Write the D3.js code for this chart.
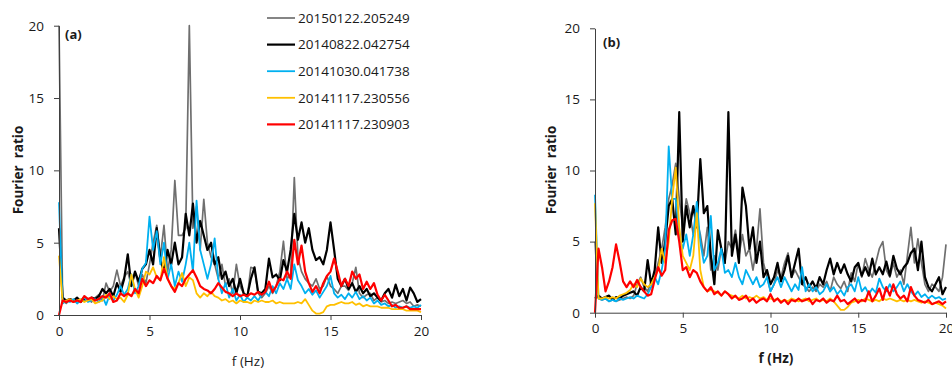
<!DOCTYPE html>
<html>
<head>
<meta charset="utf-8">
<script src="https://cdn.jsdelivr.net/npm/d3@7"></script>
<style>
  html, body { margin: 0; padding: 0; background: #fff; }
  svg { display: block; }
</style>
</head>
<body>
<div id="chart"></div>
<script>
// --- DATA ---
// spectra sampled every 0.2 Hz, from 0 to 20 Hz (101 values each)
const FREQ_STEP = 0.2;
const X_TICKS = [0, 5, 10, 15, 20];
const Y_TICKS = [0, 5, 10, 15, 20];
const EVENTS = ["20150122.205249", "20140822.042754", "20141030.041738", "20141117.230556", "20141117.230903"];

// panel (a)
const A_GRAY = [
  20, 1.0, 0.8, 1.1, 0.9, 1.2, 1.0, 1.3, 1.1, 0.9,
  1.2, 1.4, 1.0, 2.2, 1.6, 2.0, 3.1, 2.0, 2.6, 3.0,
  2.0, 3.0, 2.0, 2.8, 2.2, 3.5, 5.0, 6.2, 4.0, 6.2,
  3.0, 4.5, 9.3, 5.5, 5.5, 6.0, 20, 6.0, 7.5, 4.5,
  8.0, 5.0, 4.0, 3.5, 2.5, 3.5, 2.0, 2.5, 1.5, 3.5,
  2.0, 1.5, 1.2, 3.3, 3.2, 1.5, 1.2, 1.5, 2.0, 1.5,
  2.0, 3.0, 5.1, 2.5, 2.8, 9.5, 4.0, 3.0, 2.5, 2.2,
  2.0, 2.5, 1.8, 2.0, 2.7, 2.0, 1.8, 1.5, 2.0, 2.0,
  1.7, 2.2, 3.3, 1.5, 1.2, 1.4, 1.5, 1.0, 1.2, 0.9,
  1.0, 0.8, 0.9, 0.8, 0.9, 1.0, 0.8, 0.9, 0.6, 0.7,
  0.6
];
const A_BLACK = [
  6.0, 1.2, 1.0, 1.1, 1.0, 1.2, 0.9, 1.1, 1.0, 1.2,
  1.1, 1.3, 1.8, 1.5, 1.8, 1.3, 2.2, 1.6, 2.5, 4.2,
  2.0, 3.0, 2.3, 3.2, 3.5, 4.5, 3.5, 6.0, 3.8, 3.0,
  4.5, 3.5, 5.0, 3.5, 4.0, 7.0, 5.5, 7.7, 5.0, 6.5,
  5.5, 4.5, 5.0, 3.5, 4.0, 2.5, 3.0, 2.0, 2.5, 1.5,
  2.5, 1.5, 1.3, 2.5, 3.3, 1.6, 1.5, 1.8, 3.9, 2.6,
  2.8, 2.4, 3.8, 3.0, 4.5, 7.0, 5.2, 6.4, 5.0, 6.0,
  4.5, 3.8, 4.0, 3.5, 4.5, 6.4, 4.5, 2.5, 2.0, 2.5,
  1.8, 2.2, 1.6, 2.0, 1.5, 1.8, 1.3, 1.5, 1.2, 1.0,
  1.5, 1.8, 1.2, 2.1, 1.3, 1.8, 1.0, 1.9, 1.5, 0.9,
  1.1
];
const A_BLUE = [
  7.8, 0.8, 1.0, 0.9, 1.1, 0.8, 1.0, 1.2, 0.9, 1.0,
  1.1, 0.9, 1.3, 0.7, 1.4, 1.0, 1.4, 2.0, 1.4, 1.8,
  2.8, 1.5, 2.0, 3.2, 3.6, 6.8, 4.5, 5.8, 3.5, 5.0,
  2.5, 3.5, 2.0, 3.0, 2.3, 3.5, 5.0, 3.0, 7.9, 4.5,
  3.5, 2.5, 3.5, 5.3, 2.5, 1.5, 2.2, 1.2, 1.8, 1.0,
  1.4, 0.9, 1.2, 1.0, 1.3, 1.0, 1.4, 1.6, 1.3, 2.0,
  1.5, 2.2, 1.8, 2.5, 1.8, 3.5, 2.4, 2.0, 1.5, 1.8,
  1.4, 1.7, 1.2, 1.6, 2.0, 2.7, 1.5, 1.2, 1.4, 1.1,
  1.5, 1.2, 1.6, 1.1, 1.3, 1.0, 1.2, 0.8, 1.0, 0.7,
  0.8, 0.6, 0.7, 0.5, 0.6, 0.5, 0.6, 0.5, 0.6, 0.5,
  0.7
];
const A_YELLOW = [
  4.1, 0.9, 1.0, 1.1, 0.9, 1.0, 1.1, 0.9, 1.0, 1.1,
  0.8, 0.9, 1.0, 1.4, 1.1, 1.3, 1.1, 1.2, 0.9, 1.4,
  2.8, 1.8, 1.2, 2.0, 3.0, 2.8, 3.3, 2.6, 2.4, 4.0,
  2.5, 2.0, 1.8, 2.2, 2.9, 2.0, 2.6, 2.4, 1.5, 1.2,
  1.5, 1.3, 1.6, 1.3, 1.2, 1.0, 1.1, 0.9, 1.0, 0.8,
  1.0, 0.9, 0.9, 0.8, 1.0, 0.9, 1.0, 0.9, 0.9, 1.0,
  0.8, 0.9, 0.8, 0.8, 0.8, 0.8, 0.9, 0.8, 1.1, 0.7,
  0.3, 0.1, 0.1, 0.2, 0.6, 0.7, 0.7, 0.8, 0.9, 0.8,
  0.8, 0.9, 0.7, 0.8, 0.6, 0.7, 0.6, 0.6, 0.6, 0.5,
  0.5, 0.5, 0.4, 0.4, 0.4, 0.4, 0.3, 0.3, 0.3, 0.3,
  0.2
];
const A_RED = [
  0.0, 1.0, 0.9, 1.0, 0.9, 1.0, 0.9, 1.3, 1.1, 1.2,
  1.0, 1.1, 1.3, 1.2, 1.5, 0.9, 1.0, 1.5, 1.3, 1.5,
  1.3, 1.8, 1.5, 2.5, 2.0, 2.4, 2.2, 2.7, 2.4, 3.2,
  2.5, 2.0, 1.6, 2.2, 2.0, 2.5, 2.8, 3.1, 2.6, 2.0,
  1.8, 1.7, 1.5, 1.8, 2.2, 1.9, 1.6, 1.5, 1.3, 1.5,
  1.3, 1.4, 1.3, 1.5, 1.4, 1.6, 1.4, 1.6, 2.3, 1.6,
  2.0, 2.5, 2.4, 3.0, 2.5, 5.2, 3.5, 4.8, 3.0, 2.2,
  1.6, 2.0, 1.5, 2.2, 2.7, 3.0, 3.9, 3.0, 2.0, 2.5,
  2.0, 3.0, 2.5, 2.8, 1.8, 2.3, 1.8, 2.2, 1.4, 1.0,
  1.4, 1.0, 0.6, 0.7, 0.5, 0.5, 0.6, 0.4, 0.4, 0.4,
  0.4
];

// panel (b)
const B_GRAY = [
  5.0, 1.0, 0.9, 1.0, 0.8, 0.9, 0.8, 0.9, 1.0, 1.1,
  1.0, 1.2, 2.0, 2.5, 1.8, 1.5, 2.2, 2.5, 3.5, 4.5,
  6.0, 8.0, 9.0, 10.5, 8.0, 6.0, 8.0, 7.0, 5.5, 6.5,
  5.5, 4.0, 6.0, 3.0, 4.0, 3.0, 4.5, 3.5, 5.0, 4.5,
  5.8, 4.0, 5.5, 4.0, 4.5, 3.0, 4.5, 7.3, 3.5, 2.5,
  1.5, 2.0, 3.0, 2.5, 3.5, 4.2, 2.5, 3.0, 2.5, 2.0,
  1.8, 1.5, 1.8, 1.5, 2.0, 1.8, 2.2, 1.5, 2.5, 2.0,
  1.7, 2.2, 1.5, 2.8, 2.2, 3.5, 2.5, 3.8, 3.0, 2.5,
  3.5, 4.5, 5.0, 3.0, 2.5, 3.5, 2.5, 3.0, 2.0, 4.0,
  6.0, 3.5, 5.2, 3.5, 2.0, 1.5, 2.0, 1.8, 1.5, 2.5,
  4.8
];
const B_BLACK = [
  1.0, 1.2, 1.0, 1.1, 1.2, 0.9, 1.1, 1.0, 1.2, 1.3,
  1.4, 1.5, 1.2, 1.8, 1.5, 3.7, 2.0, 3.0, 6.0, 3.5,
  5.0, 7.5, 8.0, 5.5, 14.1, 5.0, 7.5, 6.0, 7.5, 6.0,
  10.8, 7.0, 7.5, 4.0, 2.0, 5.8, 4.5, 3.5, 14.1, 4.0,
  5.5, 3.5, 8.8, 7.5, 4.5, 6.0, 3.5, 5.0, 2.5, 3.0,
  2.0, 2.5, 3.5, 2.2, 3.0, 4.0, 2.5, 3.5, 4.5, 2.0,
  2.5, 1.8, 2.2, 1.7, 2.5, 2.0, 3.0, 3.8, 2.7, 3.5,
  2.8, 3.4, 2.7, 2.2, 3.2, 3.5, 2.6, 3.2, 2.6, 3.8,
  2.7, 3.2, 2.7, 3.6, 2.6, 4.0, 3.1, 2.7, 3.2, 3.5,
  4.2, 4.5, 3.0, 5.0, 2.5, 1.8, 1.5, 2.0, 2.5, 1.3,
  1.8
];
const B_BLUE = [
  8.3, 1.0, 0.9, 1.0, 0.8, 0.9, 0.8, 1.0, 0.9, 1.0,
  1.1, 1.0, 1.2, 1.1, 1.0, 1.3, 1.8, 2.5, 2.0, 3.0,
  4.5, 11.7, 8.0, 8.0, 5.5, 4.5, 5.5, 4.0, 5.5, 7.8,
  5.0, 3.5, 4.0, 6.8, 3.0, 3.5, 4.5, 2.8, 3.0, 2.5,
  3.5, 2.5, 2.0, 3.0, 2.5, 2.0, 2.5, 1.8, 2.0, 2.5,
  1.5, 2.0, 2.5, 1.8, 2.5, 2.0, 1.5, 2.0, 1.6, 3.2,
  1.5, 2.0, 1.5, 1.8, 1.3, 1.5, 2.0, 1.5, 1.8, 1.3,
  1.6, 1.2, 1.8, 2.0, 1.5, 2.5, 1.5, 1.8, 1.3, 1.7,
  1.4, 2.4, 1.8, 1.5, 2.0, 1.5, 1.8, 2.2, 1.5, 2.0,
  1.5, 1.2, 1.5, 1.1, 1.3, 1.0, 1.2, 1.0, 1.1, 0.9,
  1.0
];
const B_YELLOW = [
  7.7, 1.0, 1.0, 1.1, 1.0, 1.1, 1.0, 1.2, 1.3, 1.4,
  1.6, 2.0, 1.8, 2.4, 2.0, 1.8, 2.0, 2.5, 3.0, 4.5,
  3.5, 5.0, 8.0, 10.2, 6.0, 4.0, 3.5, 3.0, 4.0, 7.0,
  3.0, 1.8, 1.5, 1.6, 1.5, 1.4, 1.2, 1.5, 1.3, 1.2,
  1.1, 1.0, 1.2, 1.0, 1.1, 1.0, 1.2, 1.0, 1.1, 0.9,
  1.0, 0.9, 1.0, 0.8, 0.9, 0.8, 1.0, 0.9, 0.8, 0.9,
  1.0, 0.8, 0.9, 1.0, 0.8, 0.9, 0.8, 1.0, 0.8, 0.5,
  0.2, 0.2, 0.4, 0.7, 0.8, 0.9, 0.8, 1.0, 0.9, 0.8,
  0.9, 0.8, 1.0, 0.9, 1.0, 0.9, 0.8, 0.9, 0.8, 0.9,
  0.8, 0.9, 0.8, 0.7, 0.8, 0.7, 0.6, 0.7, 0.6, 0.5,
  0.3
];
const B_RED = [
  0.0, 4.5, 3.2, 1.5, 2.2, 3.2, 4.8, 3.6, 2.2, 1.8,
  2.2, 1.8, 2.3, 1.8, 1.5, 1.2, 1.3, 2.3, 3.2, 2.6,
  3.0, 5.8, 6.5, 6.6, 5.0, 3.0, 3.2, 2.5, 3.0, 2.8,
  2.2, 1.8, 1.5, 1.8, 1.3, 1.5, 1.2, 1.5, 1.3, 1.0,
  1.2, 0.9, 1.0, 1.2, 0.8, 1.0, 0.7, 0.9, 1.0, 0.8,
  1.3, 0.8, 1.0, 0.7, 0.9, 0.6, 0.9, 0.8, 1.0, 0.8,
  0.9, 1.0, 0.6, 0.9, 0.8, 1.0, 0.7, 0.9, 0.8, 1.2,
  0.8, 0.9, 0.6, 0.8, 1.0, 0.7, 0.9, 0.8, 1.5, 0.8,
  1.2, 1.7, 0.9, 1.8, 1.2, 2.0, 1.3, 1.0, 1.2, 0.8,
  1.8, 1.2, 0.9, 0.8, 0.7, 0.9, 0.6, 0.7, 0.8, 0.6,
  0.8
];

// --- CONFIGURATION ---
const WIDTH = 952;
const HEIGHT = 370;
const FONT = "'Open Sans', sans-serif";
const COLORS = ["#6f6f6f", "#000000", "#00b0f0", "#ffc000", "#ff0000"];
const WIDTHS = [1.7, 2.2, 1.8, 1.8, 2.2];

const PANELS = [
  { label: "(a)", series: [A_GRAY, A_BLACK, A_BLUE, A_YELLOW, A_RED],
    x: [59, 421], y: [315, 25.7], labelPos: [65, 39], boldX: false, legend: true,
    xTitle: [248, 366], yTitle: [18, 170] },
  { label: "(b)", series: [B_GRAY, B_BLACK, B_BLUE, B_YELLOW, B_RED],
    x: [595, 946], y: [312.7, 28.3], labelPos: [603, 47], boldX: true, legend: false,
    xTitle: [776, 363], yTitle: [551, 170] }
];

const svg = d3.select("#chart")
  .append("svg")
  .attr("width", WIDTH)
  .attr("height", HEIGHT)
  .style("font-family", FONT);

PANELS.forEach(p => {
  const x = d3.scaleLinear().domain([0, 20]).range(p.x);
  const y = d3.scaleLinear().domain([0, 20]).range(p.y);
  const g = svg.append("g");

  const line = d3.line()
    .x((d, i) => x(i * FREQ_STEP))
    .y(d => y(d));

  // spectra, first legend entry drawn at the bottom
  g.selectAll("path.spec")
    .data(p.series)
    .join("path")
    .attr("class", "spec")
    .attr("fill", "none")
    .attr("stroke", (d, i) => COLORS[i])
    .attr("stroke-width", (d, i) => WIDTHS[i])
    .attr("stroke-linejoin", "round")
    .attr("d", line);

  // axes
  const yAxis = d3.axisLeft(y).tickValues(Y_TICKS).tickSize(5).tickSizeOuter(0).tickPadding(10);
  const xAxis = d3.axisBottom(x).tickValues(X_TICKS).tickSize(5).tickSizeOuter(0).tickPadding(6);

  g.append("g")
    .attr("transform", `translate(${p.x[0]},0)`)
    .call(yAxis)
    .call(a => a.selectAll("path, line").attr("stroke", "#404040"))
    .call(a => a.selectAll("text").attr("font-size", "13.5px").attr("fill", "#1a1a1a").attr("font-family", FONT));

  g.append("g")
    .attr("transform", `translate(0,${p.y[0]})`)
    .call(xAxis)
    .call(a => a.selectAll("path, line").attr("stroke", "#404040"))
    .call(a => a.selectAll("text").attr("font-size", "13.5px").attr("fill", "#1a1a1a").attr("font-family", FONT));

  // titles
  g.append("text")
    .attr("x", p.xTitle[0]).attr("y", p.xTitle[1])
    .attr("text-anchor", "middle")
    .attr("font-size", "13.5px")
    .attr("font-weight", p.boldX ? "bold" : "normal")
    .attr("fill", "#1a1a1a")
    .text("f (Hz)");

  g.append("text")
    .attr("transform", `translate(${p.yTitle[0]},${p.yTitle[1]}) rotate(-90)`)
    .attr("text-anchor", "middle")
    .attr("dy", "0.35em")
    .attr("font-size", "13.5px")
    .attr("font-weight", "bold")
    .attr("fill", "#1a1a1a")
    .style("white-space", "pre")
    .text("Fourier  ratio");

  g.append("text")
    .attr("x", p.labelPos[0]).attr("y", p.labelPos[1])
    .attr("font-size", "13px")
    .attr("font-weight", "bold")
    .attr("fill", "#1a1a1a")
    .text(p.label);

  if (p.legend) {
    const rows = g.append("g")
      .selectAll("g")
      .data(EVENTS)
      .join("g")
      .attr("transform", (d, i) => `translate(267,${18 + i * 26.6})`);
    rows.append("line")
      .attr("x1", 0).attr("x2", 28)
      .attr("stroke", (d, i) => COLORS[i])
      .attr("stroke-width", (d, i) => WIDTHS[i]);
    rows.append("text")
      .attr("x", 31)
      .attr("dy", "0.35em")
      .attr("font-size", "13.5px")
      .attr("fill", "#1a1a1a")
      .text(d => d);
  }
});
</script>
</body>
</html>
